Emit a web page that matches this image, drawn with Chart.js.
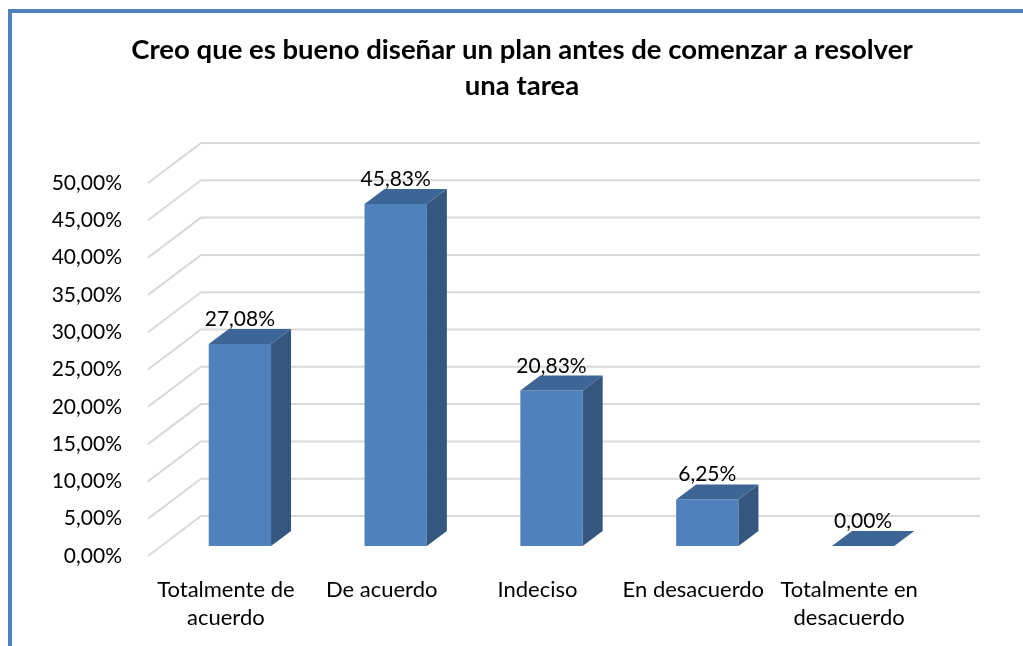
<!DOCTYPE html>
<html lang="es">
<head>
<meta charset="UTF-8">
<title>Creo que es bueno diseñar un plan</title>
<script src="https://cdn.jsdelivr.net/npm/chart.js@4.4.1/dist/chart.umd.min.js"></script>
<style>
  body { margin: 0; background: #fff; overflow: hidden; }
  canvas { position: absolute; left: 0; top: 0; }
  #marco { position: absolute; left: 8px; top: 9px; width: 1100px; height: 700px;
           border-left: 4px solid #4f81bd; border-top: 4px solid #4f81bd; pointer-events: none; }
</style>
</head>
<body>
<canvas id="grafico" width="1023" height="646"></canvas>
<div id="marco"></div>
<script>
const titulo = ['Creo que es bueno diseñar un plan antes de comenzar a resolver', 'una tarea'];
const categorias = [['Totalmente de', 'acuerdo'], 'De acuerdo', 'Indeciso', 'En desacuerdo', ['Totalmente en', 'desacuerdo']];
const porcentajes = [27.08, 45.83, 20.83, 6.25, 0];
const ejeMax = 50;
const ejePaso = 5;

function formato(v) { return v.toFixed(2).replace('.', ',') + '%'; }

// profundidad de la pared del fondo y de las barras
const pared = { dx: 53, dy: -40 };
const caja = { fx: 14, fy: -10, dx: 20, dy: -15 };

const efecto3d = {
  id: 'efecto3d',
  beforeDatasetsDraw(chart) {
    const ctx = chart.ctx, y = chart.scales.y, a = chart.chartArea;
    ctx.save();
    ctx.strokeStyle = '#d9d9d9';
    ctx.lineWidth = 2;
    y.ticks.forEach(t => {
      const py = y.getPixelForValue(t.value);
      ctx.beginPath();
      ctx.moveTo(a.left, py);
      ctx.lineTo(a.left + pared.dx, py + pared.dy);
      ctx.lineTo(a.right + pared.dx, py + pared.dy);
      ctx.stroke();
    });
    ctx.restore();
    ctx.save();
    ctx.translate(caja.fx, caja.fy);
  },
  afterDatasetsDraw(chart) {
    const ctx = chart.ctx;
    const dx = caja.dx, dy = caja.dy;
    chart.getDatasetMeta(0).data.forEach((b, i) => {
      const l = b.x - b.width / 2, r = b.x + b.width / 2, top = b.y, base = b.base;
      // lado derecho
      ctx.fillStyle = '#34567f';
      ctx.beginPath();
      ctx.moveTo(r, top); ctx.lineTo(r + dx, top + dy);
      ctx.lineTo(r + dx, base + dy); ctx.lineTo(r, base);
      ctx.closePath(); ctx.fill();
      // tapa
      ctx.fillStyle = '#3d6696';
      ctx.beginPath();
      ctx.moveTo(l, top); ctx.lineTo(l + dx, top + dy);
      ctx.lineTo(r + dx, top + dy); ctx.lineTo(r, top);
      ctx.closePath(); ctx.fill();
      // etiqueta
      ctx.fillStyle = '#000';
      ctx.font = '21px Lato';
      ctx.textAlign = 'center';
      ctx.textBaseline = 'alphabetic';
      ctx.fillText(formato(porcentajes[i]), b.x, top + dy - 3);
    });
    ctx.restore();
  },
  afterDraw(chart) {
    const ctx = chart.ctx;
    ctx.save();
    ctx.fillStyle = '#000';
    ctx.font = 'bold 27.5px Lato';
    ctx.textAlign = 'center';
    ctx.textBaseline = 'middle';
    titulo.forEach((t, i) => ctx.fillText(t, 522, 50 + i * 36));
    ctx.restore();
  }
};

Chart.defaults.font.family = 'Lato';
Chart.defaults.color = '#000';

new Chart(document.getElementById('grafico'), {
  type: 'bar',
  data: {
    labels: categorias,
    datasets: [{
      data: porcentajes,
      backgroundColor: '#4f81bd',
      borderWidth: 0,
      barPercentage: 0.4,
      categoryPercentage: 1,
      clip: false
    }]
  },
  options: {
    responsive: false,
    animation: false,
    devicePixelRatio: 1,
    layout: { padding: { top: 183, right: 96, left: 0, bottom: 0 } },
    plugins: { legend: { display: false }, title: { display: false }, tooltip: { enabled: false } },
    scales: {
      x: {
        grid: { display: false, drawTicks: false },
        border: { display: false },
        ticks: { font: { size: 22, lineHeight: '28px' }, padding: 20, maxRotation: 0, autoSkip: false },
        afterFit(s) { s.height = 90; }
      },
      y: {
        min: 0, max: ejeMax,
        grid: { display: false, drawTicks: false },
        border: { display: false },
        ticks: { stepSize: ejePaso, font: { size: 21 }, padding: 26, callback: v => formato(v) },
        afterFit(s) { s.width = 148; }
      }
    }
  },
  plugins: [efecto3d]
});
</script>
</body>
</html>
